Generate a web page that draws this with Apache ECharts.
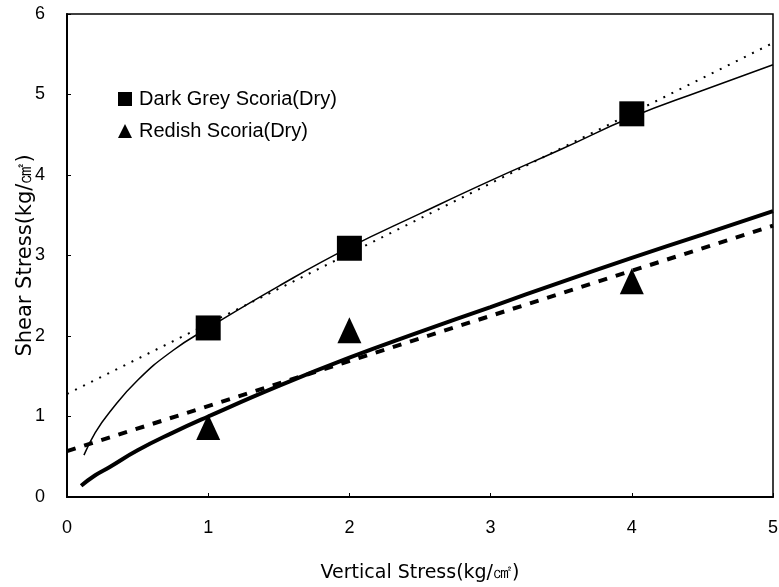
<!DOCTYPE html>
<html><head><meta charset="utf-8">
<script src="https://cdn.jsdelivr.net/npm/echarts@6/dist/echarts.min.js"></script>
<style>html,body{margin:0;padding:0;background:#fff}#c{width:779px;height:587px}</style>
</head><body><div id="c"></div>
<script>
// Measured points
const darkGreyX = [1, 2, 4];
const darkGreyY = [2.1, 3.09, 4.76];
const redishX = [1, 2, 4];
const redishY = [0.87, 2.07, 2.68];
// Thin solid curve (dark grey fit)
const darkCurveX = [0.12, 0.2, 0.3, 0.5, 0.75, 1, 1.5, 2, 2.5, 3, 3.5, 4, 4.5, 5];
const darkCurveY = [0.52, 0.8, 1.05, 1.45, 1.82, 2.1, 2.62, 3.1, 3.52, 3.93, 4.32, 4.72, 5.05, 5.37];
// Dotted line (dark grey linear)
const darkLineX = [0, 5];
const darkLineY = [1.28, 5.64];
// Thick solid curve (redish fit)
const redCurveX = [0.1, 0.2, 0.3, 0.5, 0.75, 1, 1.5, 2, 2.5, 3, 3.5, 4, 4.5, 5];
const redCurveY = [0.14, 0.27, 0.37, 0.58, 0.8, 1.0, 1.38, 1.73, 2.05, 2.36, 2.67, 2.97, 3.26, 3.55];
// Dashed line (redish linear)
const redLineX = [0, 5];
const redLineY = [0.57, 3.37];
const legendNames = ['Dark Grey Scoria(Dry)', 'Redish Scoria(Dry)'];
const xTitle = 'Vertical Stress(kg/㎠)';
const yTitle = 'Shear Stress(kg/㎠)';

const zip = (a, b) => a.map((v, i) => [v, b[i]]);
const font = 'Liberation Sans, Arial, sans-serif';
const titleFont = 'DejaVu Sans, sans-serif';
const chart = echarts.init(document.getElementById('c'));
chart.setOption({
  animation: false,
  grid: {left: 67, top: 14, right: 6, bottom: 90, show: true, borderColor: '#000', borderWidth: 1.5,
         containLabel: false, outerBoundsMode: 'none'},
  legend: {
    data: [{name: legendNames[0], icon: 'rect'}, {name: legendNames[1], icon: 'triangle'}],
    orient: 'vertical', left: 113, top: 84, itemWidth: 14, itemHeight: 14, itemGap: 12,
    itemStyle: {opacity: 1},
    textStyle: {fontFamily: font, fontSize: 20, color: '#000', padding: [0, 0, 0, 2]}
  },
  xAxis: {
    type: 'value', min: 0, max: 5, interval: 1,
    name: xTitle, nameLocation: 'middle', nameGap: 67,
    nameTextStyle: {fontFamily: titleFont, fontSize: 19, color: '#000'},
    axisLine: {lineStyle: {color: '#000', width: 2}},
    axisTick: {inside: true, length: 4, lineStyle: {color: '#000'}},
    axisLabel: {fontFamily: font, fontSize: 18, color: '#000', margin: 22},
    splitLine: {show: false}
  },
  yAxis: {
    type: 'value', min: 0, max: 6, interval: 1,
    name: yTitle, nameLocation: 'middle', nameGap: 31, nameMoveOverlap: false,
    nameTextStyle: {fontFamily: titleFont, fontSize: 21, color: '#000'},
    axisLine: {show: true, lineStyle: {color: '#000', width: 2}},
    axisTick: {show: true, inside: true, length: 4, lineStyle: {color: '#000'}},
    axisLabel: {fontFamily: font, fontSize: 18, color: '#000', margin: 22},
    splitLine: {show: false}
  },
  series: [
    {type: 'line', data: zip(darkLineX, darkLineY), showSymbol: false, silent: true,
     lineStyle: {color: '#000', width: 2, type: [2, 7]}},
    {type: 'line', data: zip(darkCurveX, darkCurveY), showSymbol: false, smooth: true, silent: true,
     lineStyle: {color: '#000', width: 1.5}},
    {type: 'line', data: zip(redLineX, redLineY), showSymbol: false, silent: true,
     lineStyle: {color: '#000', width: 4, type: [9, 9]}},
    {type: 'line', data: zip(redCurveX, redCurveY), showSymbol: false, smooth: true, silent: true,
     lineStyle: {color: '#000', width: 4}},
    {name: legendNames[0], type: 'scatter', data: zip(darkGreyX, darkGreyY), symbol: 'rect', symbolSize: 25,
     itemStyle: {color: '#000', opacity: 1}, z: 5},
    {name: legendNames[1], type: 'scatter', data: zip(redishX, redishY), symbol: 'triangle', symbolSize: [24, 26],
     itemStyle: {color: '#000', opacity: 1}, z: 5}
  ]
});
</script></body></html>
